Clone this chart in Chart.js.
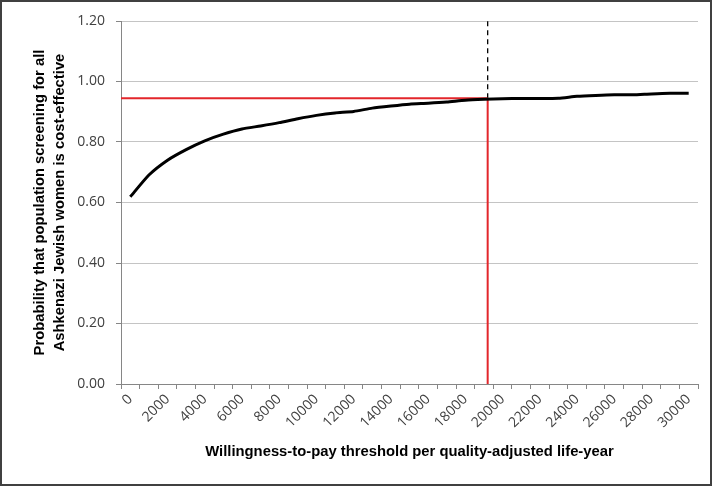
<!DOCTYPE html>
<html>
<head>
<meta charset="utf-8">
<script src="https://cdn.jsdelivr.net/npm/chart.js@4.4.0/dist/chart.umd.min.js"></script>
<style>
  body { margin: 0; background: #fff; }
  #wrap { position: relative; width: 714px; height: 487px; }
  #frame { position: absolute; left: 0; top: 0; width: 712px; height: 486px; border: 2px solid #404040; box-sizing: border-box; pointer-events: none; }
</style>
</head>
<body>
<div id="wrap">
  <canvas id="chart" width="714" height="487"></canvas>
  <div id="frame"></div>
</div>
<script>
// Umbrales de disposición a pagar (eje x)
const thresholds = [0, 1000, 2000, 3000, 4000, 5000, 6000, 7000, 8000, 9000, 10000,
    11000, 12000, 13000, 14000, 15000, 16000, 17000, 18000, 19000, 20000,
    21000, 22000, 23000, 24000, 25000, 26000, 27000, 28000, 29000, 30000];

// Probabilidad de que el cribado sea coste-efectivo
const probability = [0.619, 0.691, 0.740, 0.775, 0.804, 0.826, 0.843, 0.853, 0.864, 0.877, 0.888,
    0.896, 0.901, 0.912, 0.919, 0.925, 0.928, 0.932, 0.938, 0.941, 0.943,
    0.944, 0.944, 0.945, 0.951, 0.954, 0.956, 0.956, 0.959, 0.961, 0.961];

// Líneas de referencia
const refThreshold = 19200;
const refProbability = 0.945;
const yTicks = [0, 0.2, 0.4, 0.6, 0.8, 1.0, 1.2];

const axisColor = "#868686";
const gridColor = "#c4c4c4";
const tickFont = { family: "'Open Sans', 'Liberation Sans', sans-serif", size: 14 };
const yTitleFont = { family: "'Liberation Sans', Arial, sans-serif", size: 14.8, weight: "bold", lineHeight: 1.35 };
const xTitleFont = { family: "'Liberation Sans', Arial, sans-serif", size: 14.8, weight: "bold", lineHeight: 1.2 };

const ctx = document.getElementById("chart").getContext("2d");
new Chart(ctx, {
    type: "line",
    data: {
        labels: thresholds.map(String),
        datasets: [
            {
                label: "Probability",
                data: probability,
                borderColor: "#000",
                borderWidth: 3,
                pointRadius: 0,
                tension: 0.2,
                xAxisID: "x",
            },
            {
                label: "horizontal",
                data: [{ x: -500, y: refProbability }, { x: refThreshold, y: refProbability }],
                borderColor: "#e3262b",
                borderWidth: 2,
                pointRadius: 0,
                xAxisID: "xv",
            },
            {
                label: "vertical",
                data: [{ x: refThreshold, y: 0 }, { x: refThreshold, y: refProbability }],
                borderColor: "#e3262b",
                borderWidth: 2,
                pointRadius: 0,
                xAxisID: "xv",
            },
            {
                label: "dashed",
                data: [{ x: refThreshold, y: refProbability }, { x: refThreshold, y: yTicks[yTicks.length - 1] }],
                borderColor: "#000",
                borderWidth: 1.3,
                borderDash: [5, 4],
                pointRadius: 0,
                xAxisID: "xv",
            },
        ],
    },
    options: {
        responsive: false,
        animation: false,
        layout: { padding: { left: 26, right: 16, top: 21, bottom: 22 } },
        plugins: { legend: { display: false }, tooltip: { enabled: false } },
        scales: {
            x: {
                type: "category",
                offset: true,
                grid: { offset: true, drawOnChartArea: false, color: axisColor, tickLength: 5 },
                border: { color: axisColor },
                ticks: {
                    autoSkip: false,
                    maxRotation: 45,
                    minRotation: 45,
                    color: "#404040",
                    font: tickFont,
                    padding: 2,
                    callback: function (value, index) {
                        return index % 2 === 0 ? thresholds[index] : "";
                    },
                },
                title: {
                    display: true,
                    text: "Willingness-to-pay threshold per quality-adjusted life-year",
                    color: "#000",
                    font: xTitleFont,
                },
                afterFit: function (scale) { scale.height = 81; },
            },
            xv: {
                type: "linear",
                display: false,
                min: -500,
                max: 30500,
            },
            y: {
                min: 0,
                max: 1.2,
                afterBuildTicks: function (scale) {
                    scale.ticks = yTicks.map(v => ({ value: v }));
                },
                grid: { color: gridColor, tickLength: 5, tickColor: axisColor },
                border: { color: axisColor },
                ticks: {
                    color: "#404040",
                    font: tickFont,
                    padding: 11,
                    callback: function (value) { return Number(value).toFixed(2); },
                },
                title: {
                    display: true,
                    text: ["Probability that population screening for all", "Ashkenazi Jewish women is cost-effective"],
                    color: "#000",
                    font: yTitleFont,
                    padding: { top: 4, bottom: 4 },
                },
                afterFit: function (scale) { scale.width = 95; },
            },
        },
    },
});
</script>
</body>
</html>
